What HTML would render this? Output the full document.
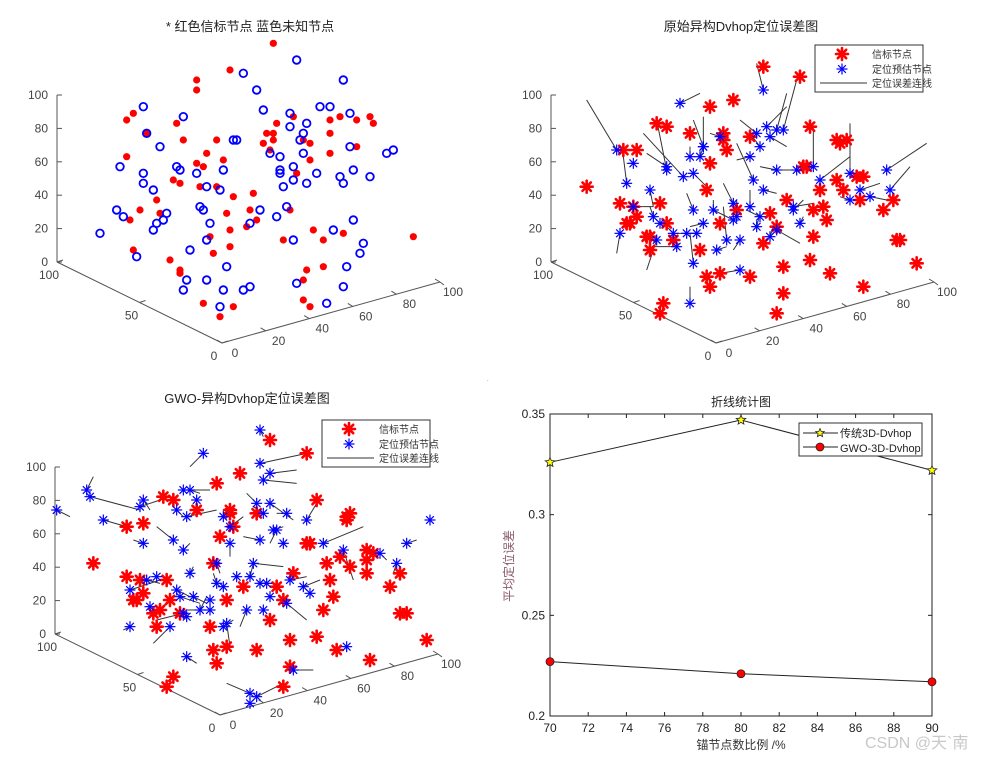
<!DOCTYPE html>
<html><head><meta charset="utf-8">
<style>
html,body{margin:0;padding:0;background:#fff;}
svg{display:block;font-family:"Liberation Sans","Noto Sans CJK SC",sans-serif;}
</style></head>
<body>
<svg id="fig" width="985" height="759" viewBox="0 0 985 759">
<rect width="985" height="759" fill="#fff"/>
<g id="p1"></g>
<g id="p2"></g>
<g id="p3"></g>
<g id="p4"></g>
<text x="487" y="381" font-size="6" fill="#666">.</text>
<text x="865" y="748" font-size="16" fill="#c8c8c8">CSDN @天`南</text>
</svg>
<script>
// ---------- Plot 1 data (x, z view coordinates) ----------
const p1RedX=[52,39,29,29,10,8,23,25,14,8,35,32,37,29,31,22,24,30,35,40,46,17,12,9,18,38,45,47,39,44,33,39,10,34,21,24,24,31,40,36,53,50,52,52,49,51,58,61,63,63,59,57,55,64,67,73,67,62,61,61,63,69,69,69,72,77,81,82,77,94];
const p1RedZ=[83,75,72,69,62,60,59,54,56,49,54,50,48,47,46,42,41,40,40,37,38,36,33,30,32,32,33,30,27,28,25,22,21,20,18,15,14,5,4,1,59,56,56,54,53,51,61,54,53,48,44,33,24,27,24,26,16,15,12,6,4,56,50,60,61,60,61,59,52,25];
const p1BlueX=[59,43,47,73,13,25,49,57,66,69,75,57,62,61,60,14,18,40,41,75,86,88,6,13,23,24,29,37,51,54,61,58,54,54,65,72,76,81,13,16,32,36,55,58,62,73,5,7,17,19,20,30,31,33,48,53,56,45,16,0,32,27,11,70,76,58,79,78,74,38,26,32,25,37,43,45,59,73,68,36];
const p1BlueZ=[78,74,69,72,64,61,63,62,64,64,62,58,59,56,54,56,52,54,54,52,50,51,46,44,46,45,44,45,50,49,50,46,45,44,44,43,45,43,41,39,40,39,40,42,41,41,33,31,29,30,32,34,33,29,33,31,34,29,27,26,24,21,19,27,30,24,23,20,16,16,12,12,9,9,9,10,11,10,5,4];
// ---------- Plot 2 data ----------
const p2BeaconX=[43,54,34,27,11,14,21,31,31,32,39,57,27,5,1,-10,26,0,4,12,5,2,3,14,8,9,16,9,30,35,45,50,47,43,24,26,27,30,39,49,49,47,57,63,73,89,83,84,79,82,72,73,71,67,65,65,66,68,55,56,60,58,61,62,58,13,12];
const p2BeaconZ=[88,85,78,76,71,70,68,68,66,63,67,70,59,63,63,52,51,47,46,47,43,41,41,41,37,37,36,33,41,45,44,48,40,35,33,25,22,26,25,28,20,14,30,26,22,29,36,36,45,48,48,55,55,51,54,66,65,66,58,58,51,45,46,42,37,17,14];
const p2EstX=[43,18,-1,44,47,49,45,41,42,39,25,25,30,21,24,14,14,4,2,19,22,40,47,53,58,60,69,80,81,72,69,75,43,52,52,54,34,39,35,22,28,34,9,4,10,12,25,16,20,23,0,17,11,22,29,32,36,41,42,47,45,36,21];
const p2EstZ=[81,77,63,70,69,69,67,68,64,61,64,64,67,61,61,57,58,59,53,55,56,54,57,57,58,54,56,57,51,51,48,49,51,46,45,41,47,46,43,45,45,42,51,46,43,41,41,38,38,38,38,34,36,29,33,36,36,40,43,39,37,27,17];
const p2TrueX=[41,24,-10,50,50,53,50,36,39,35,22,25,27,21,25,11,8,2,1,7,26,35,42,47,58,69,69,92,87,78,66,80,47,58,55,55,31,39,35,20,28,28,10,10,9,13,21,14,24,17,-1,10,8,21,32,31,34,42,38,54,46,30,21];
const p2TrueZ=[89,80,78,76,80,84,64,72,68,60,72,73,68,64,64,72,62,59,61,68,52,65,58,57,70,61,71,65,58,53,49,48,50,47,48,43,53,51,48,50,48,45,46,46,46,40,40,40,38,38,32,34,27,38,34,46,33,44,45,35,40,26,22];
// ---------- Plot 3 data ----------
const p3BeaconX=[39,50,30,23,7,10,17,27,27,35,28,24,53,62,63,62,-4,1,-14,22,-4,0,1,-2,-1,8,9,4,6,12,5,21,26,31,41,46,43,39,55,53,45,35,26,22,23,10,8,43,45,59,69,86,78,80,75,78,68,68,68,70,60,63,56,57,58,50,51];
const p3BeaconZ=[87,83,77,74,70,69,66,66,65,65,61,58,69,64,65,63,61,62,50,50,46,45,41,39,39,45,39,35,36,35,31,31,39,43,43,47,39,33,36,28,27,24,25,24,20,16,13,13,19,24,21,27,35,35,43,47,47,51,54,53,52,49,50,45,40,56,56];
const p3EstX=[36,19,36,39,37,-16,-15,-25,-11,1,0,13,15,17,11,14,25,27,35,37,39,44,40,41,50,36,43,55,61,72,80,77,87,10,13,1,27,23,34,15,23,25,29,33,36,38,45,49,51,39,44,37,32,25,26,2,5,-3,3,11,12,16,21,18,21,13,14,9,-3,14,62,46,33,35,33];
const p3EstZ=[90,83,80,77,75,72,70,66,63,69,67,72,72,69,66,64,64,61,68,65,68,65,60,60,63,57,56,56,54,53,56,50,63,57,54,56,56,50,50,47,44,43,46,46,44,44,45,43,41,40,38,36,36,31,32,45,46,42,37,42,40,40,39,36,36,35,34,31,31,22,25,18,11,10,8];
const p3TrueX=[37,15,50,47,47,-14,0,-21,-4,3,6,21,18,16,13,23,26,31,32,34,46,41,43,39,53,31,44,67,64,74,83,76,87,5,15,-2,27,24,43,16,22,25,29,34,39,38,50,54,51,39,50,37,30,28,27,6,5,6,3,15,18,20,21,20,14,5,13,4,-5,17,61,52,26,43,33];
const p3TrueZ=[88,79,83,78,74,76,66,64,61,66,69,72,71,69,64,66,66,64,71,67,63,65,61,56,68,58,56,61,45,51,57,47,63,61,56,57,52,47,49,49,47,43,46,50,44,44,46,45,41,40,33,36,31,33,25,44,46,45,37,40,38,38,36,40,36,33,36,26,30,20,25,18,14,14,8];
// ---------- Plot 4 data ----------
const ratios=[70,80,90];
const dvhopErr=[0.326,0.347,0.322];
const gwoErr=[0.227,0.221,0.217];
const xTicks=[70,72,74,76,78,80,82,84,86,88,90];
const yTicks=[0.2,0.25,0.3,0.35];
const zTickLabels=[0,20,40,60,80,100];
const xAxisTickLabels=[0,20,40,60,80,100];
const depthTickLabels=[100,50,0];

const NS="http://www.w3.org/2000/svg";
function mk(parent,tag,attrs,text){
  const e=document.createElementNS(NS,tag);
  for(const k in attrs)e.setAttribute(k,attrs[k]);
  if(text!==undefined)e.textContent=text;
  parent.appendChild(e);return e;
}
function axes3d(g,dx,dy,title,titleX){
  const ax=mk(g,'g',{});
  
  
  const c='#555';
  // z axis
  mk(ax,'line',{x1:57+dx,y1:95+dy,x2:57+dx,y2:262+dy,stroke:c,'stroke-width':1});
  zTickLabels.forEach(v=>{
    const y=262+dy-v*1.67;
    mk(ax,'line',{x1:57+dx,y1:y,x2:62+dx,y2:y,stroke:c});
    const t=mk(ax,'text',{x:48+dx,y:y+4,'font-size':12,fill:'#444','text-anchor':'end'},v);
    
    
  });
  // depth axis
  mk(ax,'line',{x1:57+dx,y1:262+dy,x2:222+dx,y2:343+dy,stroke:c});
  depthTickLabels.forEach((v,i)=>{
    const f=(100-v)/100;
    const x=57+dx+165*f,y=262+dy+81*f;
    mk(ax,'line',{x1:x,y1:y,x2:x+6,y2:y-2,stroke:c});
    const t=mk(ax,'text',{x:x-8,y:y+17,'font-size':12,fill:'#444','text-anchor':'middle'},v);
    
    
  });
  // x axis
  mk(ax,'line',{x1:222+dx,y1:343+dy,x2:440+dx,y2:282+dy,stroke:c});
  mk(ax,'line',{x1:440+dx,y1:282+dy,x2:444+dx,y2:285+dy,stroke:c});
  xAxisTickLabels.forEach(v=>{
    const f=v/100;
    const x=222+dx+218*f,y=343+dy-61*f;
    mk(ax,'line',{x1:x,y1:y,x2:x-5,y2:y-3,stroke:c});
    const t=mk(ax,'text',{x:x+13,y:y+14,'font-size':12,fill:'#444','text-anchor':'middle'},v);
    
    
  });
  const tt=mk(g,'text',{x:titleX,y:31+dy,'font-size':13,fill:'#222','text-anchor':'middle'},title);
  
  
}
function proj(ox,oy,x,z){return [ox+(x+30)*10/3, oy+(96-z)*10/3];}
function redStar(g,x,y){
  const s=mk(g,'g',{stroke:'#f00','stroke-width':2.6,'stroke-linecap':'round'});
  
  
  const r=6;
  [[0,r],[r,0],[r*.7,r*.7],[r*.7,-r*.7]].forEach(d=>mk(s,'line',{x1:x-d[0],y1:y-d[1],x2:x+d[0],y2:y+d[1]}));
}
function blueStar(g,x,y){
  const s=mk(g,'g',{stroke:'#00f','stroke-width':1.2});
  
  
  const r=5.5;
  [[0,r],[r,0],[r*.7,r*.7],[r*.7,-r*.7]].forEach(d=>mk(s,'line',{x1:x-d[0],y1:y-d[1],x2:x+d[0],y2:y+d[1]}));
}
function legend(g,x,y){
  const L=mk(g,'g',{});
  
  
  mk(L,'rect',{x:x,y:y,width:108,height:47,fill:'#fff',stroke:'#333'});
  redStar(L,x+27,y+9);
  blueStar(L,x+27,y+24);
  mk(L,'line',{x1:x+5,y1:y+38,x2:x+52,y2:y+38,stroke:'#333'});
  mk(L,'text',{x:x+57,y:y+13,'font-size':10,fill:'#333'},'信标节点');
  mk(L,'text',{x:x+57,y:y+28,'font-size':10,fill:'#333'},'定位预估节点');
  mk(L,'text',{x:x+57,y:y+42,'font-size':10,fill:'#333'},'定位误差连线');
}

// Plot 1
(function(){
  const g=document.getElementById('p1');
  axes3d(g,0,0,'* 红色信标节点 蓝色未知节点',250);
  p1RedX.forEach((x,i)=>{const p=proj(0,0,x,p1RedZ[i]);
    const e=mk(g,'circle',{cx:p[0],cy:p[1],r:3.6,fill:'#f00'});
    
    });
  p1BlueX.forEach((x,i)=>{const p=proj(0,0,x,p1BlueZ[i]);
    const e=mk(g,'circle',{cx:p[0],cy:p[1],r:3.8,fill:'none',stroke:'#00f','stroke-width':1.8});
    
    });
})();
function errPlot(id,ox,oy,bx,bz,ex,ez,tx,tz,title,titleX,lx,ly,dx,dy){
  const g=document.getElementById(id);
  axes3d(g,dx,dy,title,titleX);
  ex.forEach((x,i)=>{const a=proj(ox,oy,x,ez[i]),b=proj(ox,oy,tx[i],tz[i]);
    const e=mk(g,'line',{x1:a[0],y1:a[1],x2:b[0],y2:b[1],stroke:'#333','stroke-width':1});
    
    });
  bx.forEach((x,i)=>{const p=proj(ox,oy,x,bz[i]);redStar(g,p[0],p[1]);});
  ex.forEach((x,i)=>{const p=proj(ox,oy,x,ez[i]);blueStar(g,p[0],p[1]);});
  legend(g,lx,ly);
}
errPlot('p2',520,40,p2BeaconX,p2BeaconZ,p2EstX,p2EstZ,p2TrueX,p2TrueZ,'原始异构Dvhop定位误差图',741,815,45,494,0);
errPlot('p3',40,410,p3BeaconX,p3BeaconZ,p3EstX,p3EstZ,p3TrueX,p3TrueZ,'GWO-异构Dvhop定位误差图',247,322,420,-2,372);

// Plot 4
(function(){
  const g=document.getElementById('p4');
  const L=550,R=932,T=414,B=716;
  const sx=v=>L+(v-70)/20*(R-L);
  const sy=v=>B-(v-0.2)/0.15*(B-T);
  const box=mk(g,'rect',{x:L,y:T,width:R-L,height:B-T,fill:'#fff',stroke:'#222'});
  
  
  xTicks.forEach(v=>{const x=sx(v);
    mk(g,'line',{x1:x,y1:B,x2:x,y2:B-4,stroke:'#222'});
    mk(g,'line',{x1:x,y1:T,x2:x,y2:T+4,stroke:'#222'});
    const t=mk(g,'text',{x:x,y:B+16,'font-size':12,fill:'#222','text-anchor':'middle'},v);
    
    });
  yTicks.forEach(v=>{const y=sy(v);
    mk(g,'line',{x1:L,y1:y,x2:L+4,y2:y,stroke:'#222'});
    mk(g,'line',{x1:R,y1:y,x2:R-4,y2:y,stroke:'#222'});
    const t=mk(g,'text',{x:L-5,y:y+4,'font-size':12,fill:'#222','text-anchor':'end'},String(v));
    
    });
  const l1=mk(g,'polyline',{points:ratios.map((r,i)=>sx(r)+','+sy(dvhopErr[i])).join(' '),fill:'none',stroke:'#222','stroke-width':1});
  
  
  const l2=mk(g,'polyline',{points:ratios.map((r,i)=>sx(r)+','+sy(gwoErr[i])).join(' '),fill:'none',stroke:'#222','stroke-width':1});
  
  
  function star(x,y,r){let p=[];for(let k=0;k<10;k++){const a=-Math.PI/2+k*Math.PI/5,rr=k%2?r*0.45:r;p.push((x+rr*Math.cos(a)).toFixed(1)+','+(y+rr*Math.sin(a)).toFixed(1));}return p.join(' ');}
  ratios.forEach((r,i)=>{
    const s=mk(g,'polygon',{points:star(sx(r),sy(dvhopErr[i]),5),fill:'#ff0',stroke:'#222','stroke-width':0.8});
    
    
    const c=mk(g,'circle',{cx:sx(r),cy:sy(gwoErr[i]),r:4,fill:'#f00',stroke:'#222','stroke-width':0.8});
    
    
  });
  const lg=mk(g,'g',{});
  
  
  mk(lg,'rect',{x:799,y:423,width:123,height:33,fill:'#fff',stroke:'#333'});
  mk(lg,'line',{x1:803,y1:433,x2:838,y2:433,stroke:'#222'});
  mk(lg,'polygon',{points:star(820,433,4.5),fill:'#ff0',stroke:'#222','stroke-width':0.8});
  mk(lg,'text',{x:840,y:437,'font-size':11,fill:'#222'},'传统3D-Dvhop');
  mk(lg,'line',{x1:803,y1:447,x2:838,y2:447,stroke:'#222'});
  mk(lg,'circle',{cx:820,cy:447,r:4,fill:'#f00',stroke:'#222','stroke-width':0.8});
  mk(lg,'text',{x:840,y:452,'font-size':11,fill:'#222'},'GWO-3D-Dvhop');
  const t=mk(g,'text',{x:741,y:406,'font-size':12,fill:'#222','text-anchor':'middle'},'折线统计图');
  
  
  const xl=mk(g,'text',{x:741,y:749,'font-size':12,fill:'#333','text-anchor':'middle'},'锚节点数比例 /%');
  
  
  const yl=mk(g,'text',{x:0,y:0,'font-size':12,fill:'#8a5a6a','text-anchor':'middle',transform:'translate(513,566) rotate(-90)'},'平均定位误差');
  
  
})();
</script>
</body></html>
